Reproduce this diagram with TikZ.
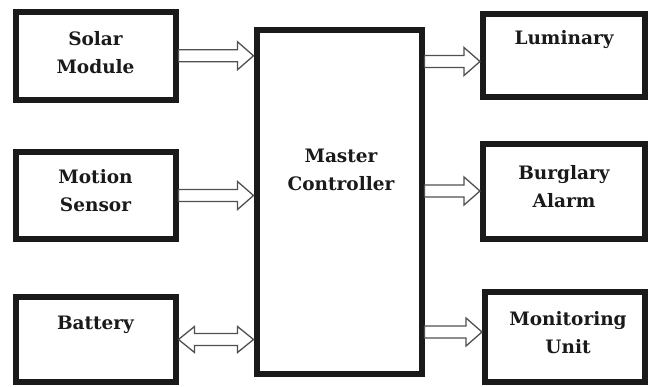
\documentclass[tikz,border=0pt]{standalone}
\usepackage{fontspec}
\setmainfont{DejaVu Serif}
\usetikzlibrary{calc}
\definecolor{ink}{HTML}{1A1A1A}
\definecolor{agray}{HTML}{505050}
\begin{document}
\begin{tikzpicture}[x=1pt,y=-1pt,
  box/.style={draw=ink, line width=6pt, inner sep=0pt},
  lbl/.style={align=center, font=\bfseries\fontsize{18.5}{28}\selectfont, text=ink, inner sep=0pt},
  harrow/.style={draw=agray, line width=1.3pt, fill=white,
    to path={let \p1=(\tikztostart), \p2=(\tikztotarget) in
      (\x1,\y1+6pt) -- (\x2-16pt,\y1+6pt) -- (\x2-16pt,\y1+14pt) -- (\x2,\y1)
      -- (\x2-16pt,\y1-14pt) -- (\x2-16pt,\y1-6pt) -- (\x1,\y1-6pt) -- cycle}},
  hdarrow/.style={draw=agray, line width=1.3pt, fill=white,
    to path={let \p1=(\tikztostart), \p2=(\tikztotarget) in
      (\x1,\y1) -- (\x1+16pt,\y1+13pt) -- (\x1+16pt,\y1+6pt) -- (\x2-16pt,\y1+6pt)
      -- (\x2-16pt,\y1+13pt) -- (\x2,\y1) -- (\x2-16pt,\y1-13pt) -- (\x2-16pt,\y1-6pt)
      -- (\x1+16pt,\y1-6pt) -- (\x1+16pt,\y1-13pt) -- cycle}}]
\useasboundingbox (0,0) rectangle (648,386);

% boxes
\node[box, minimum width=160pt, minimum height=88.5pt] (solar)  at (95.5,55.75) {};
\node[box, minimum width=160pt, minimum height=87pt]   (motion) at (95.5,195.5) {};
\node[box, minimum width=160pt, minimum height=85pt]   (batt)   at (95.5,339.5) {};
\node[box, minimum width=165pt, minimum height=344.5pt] (master) at (339,201.75) {};
\node[box, minimum width=162pt, minimum height=83pt]   (lum)    at (564,55) {};
\node[box, minimum width=162pt, minimum height=95pt]   (burg)   at (564,191) {};
\node[box, minimum width=160pt, minimum height=90pt]   (mon)    at (565,336.5) {};

% labels
\node[lbl] (solarT)  at (95.5,53)  {Solar\\Module};
\node[lbl] (motionT) at (95.5,191) {Motion\\Sensor};
\node[lbl] (battT)   at (95.5,325) {Battery};
\node[lbl] (masterT) at (341,170)  {Master\\Controller};
\node[lbl] (lumT)    at (564,40)   {Luminary};
\node[lbl] (burgT)   at (564,187)  {Burglary\\Alarm};
\node[lbl] (monT)    at (568,333)  {Monitoring\\Unit};

% connectors
\coordinate (lumin) at ([yshift=-6.5pt]lum.west);
\coordinate (monin) at ([yshift=4.5pt]mon.west);
\draw[harrow] (solar.east) to (master.west |- solar.east);
\draw[harrow] (motion.east) to (master.west |- motion.east);
\draw[hdarrow] (batt.east) to (master.west |- batt.east);
\draw[harrow] (master.east |- lumin) to (lumin);
\draw[harrow] (master.east |- burg.west) to (burg.west);
\draw[harrow] (master.east |- monin) to (monin);
\end{tikzpicture}
\end{document}
